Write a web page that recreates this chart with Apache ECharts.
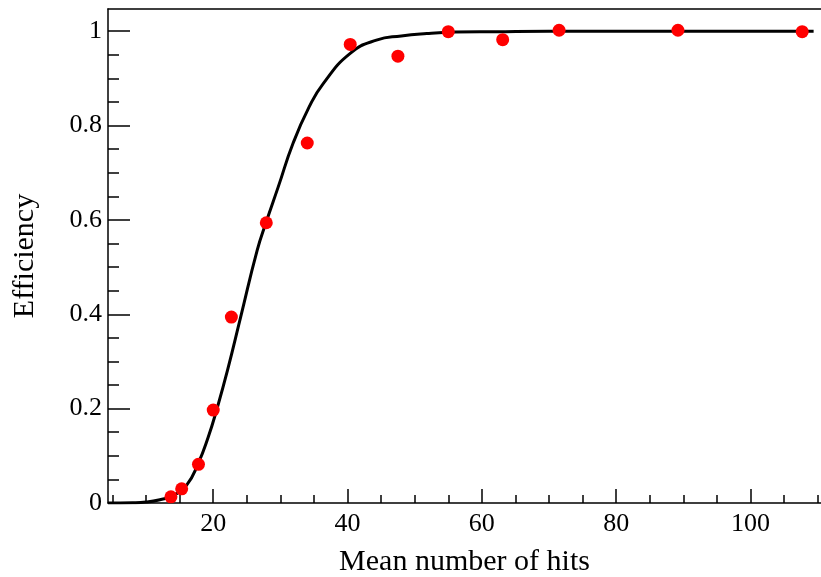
<!DOCTYPE html>
<html>
<head>
<meta charset="utf-8">
<script src="https://cdn.jsdelivr.net/npm/echarts@6/dist/echarts.min.js"></script>
<style>
html,body{margin:0;padding:0;background:#fff;}
#chart{width:821px;height:577px;}
</style>
</head>
<body>
<div id="chart"></div>
<script>
// Measured points
var hitsX = [13.7, 15.3, 17.8, 20.0, 22.7, 27.9, 34.0, 40.4, 47.5, 55.0, 63.1, 71.5, 89.2, 107.7];
var effY  = [0.013, 0.030, 0.082, 0.197, 0.394, 0.594, 0.763, 0.972, 0.947, 0.999, 0.982, 1.002, 1.002, 0.999];

// Fitted curve
var curveX = [4.33, 8, 10, 12.06, 14.04, 16.04, 17.77, 19.26, 20.5, 22.14, 24.1, 26.55, 27.85, 29.68, 31.9, 34.3, 36.38, 40.4, 44.3, 48, 51.8, 56, 62, 70, 90, 109.4];
var curveY = [0, 0.0005, 0.002, 0.007, 0.016, 0.038, 0.084, 0.14, 0.197, 0.282, 0.395, 0.536, 0.594, 0.670, 0.763, 0.840, 0.889, 0.953, 0.981, 0.990, 0.995, 0.998, 0.999, 1.0, 1.0, 1.0];

// Tick values
var xMajorTicks = [20, 40, 60, 80, 100];
var xMinorTicks = [5, 10, 15, 25, 30, 35, 45, 50, 55, 65, 70, 75, 85, 90, 95, 105, 110];
var yMajorTicks = [0, 0.2, 0.4, 0.6, 0.8, 1];
var yMinorTicks = [0.05, 0.1, 0.15, 0.25, 0.3, 0.35, 0.45, 0.5, 0.55, 0.65, 0.7, 0.75, 0.85, 0.9, 0.95];

var xMin = 4.33, xMax = 110.5, yMin = 0, yMax = 1.047;
var FONT = 'Liberation Serif';

function zip(a, b) { return a.map(function (v, i) { return [v, b[i]]; }); }

var chart = echarts.init(document.getElementById('chart'), null, {renderer: 'canvas'});
var axisLine = {show: true, lineStyle: {color: '#000', width: 1.5}};
var option = {
  animation: false,
  backgroundColor: '#fff',
  grid: {left: 108, top: 9, right: 0, bottom: 74, containLabel: false, outerBoundsMode: 'none'},
  xAxis: [
    {
      type: 'value', min: xMin, max: xMax, position: 'bottom',
      axisLine: axisLine,
      axisTick: {show: true, inside: true, length: 14, customValues: xMajorTicks, lineStyle: {color: '#000', width: 1.5}},
      axisLabel: {show: true, customValues: xMajorTicks, fontFamily: FONT, fontSize: 26, color: '#000', margin: 8},
      splitLine: {show: false},
      name: 'Mean number of hits', nameLocation: 'middle', nameGap: 44,
      nameTextStyle: {fontFamily: FONT, fontSize: 30, color: '#000'}
    },
    {
      type: 'value', min: xMin, max: xMax, position: 'bottom',
      axisLine: {show: false},
      axisTick: {show: true, inside: true, length: 8, customValues: xMinorTicks, lineStyle: {color: '#000', width: 1.5}},
      axisLabel: {show: false},
      splitLine: {show: false}
    },
    {
      type: 'value', min: xMin, max: xMax, position: 'top',
      axisLine: axisLine,
      axisTick: {show: false}, axisLabel: {show: false}, splitLine: {show: false}
    }
  ],
  yAxis: [
    {
      type: 'value', min: yMin, max: yMax, position: 'left',
      axisLine: axisLine,
      axisTick: {show: true, inside: true, length: 22, customValues: yMajorTicks, lineStyle: {color: '#000', width: 1.5}},
      axisLabel: {show: true, customValues: yMajorTicks, fontFamily: FONT, fontSize: 26, color: '#000', margin: 6},
      splitLine: {show: false},
      name: 'Efficiency', nameLocation: 'middle', nameGap: 68, nameRotate: 90,
      nameTextStyle: {fontFamily: FONT, fontSize: 30, color: '#000'}
    },
    {
      type: 'value', min: yMin, max: yMax, position: 'left',
      axisLine: {show: false},
      axisTick: {show: true, inside: true, length: 11, customValues: yMinorTicks, lineStyle: {color: '#000', width: 1.5}},
      axisLabel: {show: false},
      splitLine: {show: false}
    }
  ],
  series: [
    {
      type: 'line', xAxisIndex: 0, yAxisIndex: 0,
      data: zip(curveX, curveY),
      showSymbol: false, symbol: 'none', smooth: 0.5,
      lineStyle: {color: '#000', width: 3},
      z: 2
    },
    {
      type: 'scatter', xAxisIndex: 0, yAxisIndex: 0,
      data: zip(hitsX, effY),
      symbol: 'circle', symbolSize: 13,
      itemStyle: {color: '#ff0000', opacity: 1},
      z: 3
    }
  ]
};
chart.setOption(option);
</script>
</body>
</html>
